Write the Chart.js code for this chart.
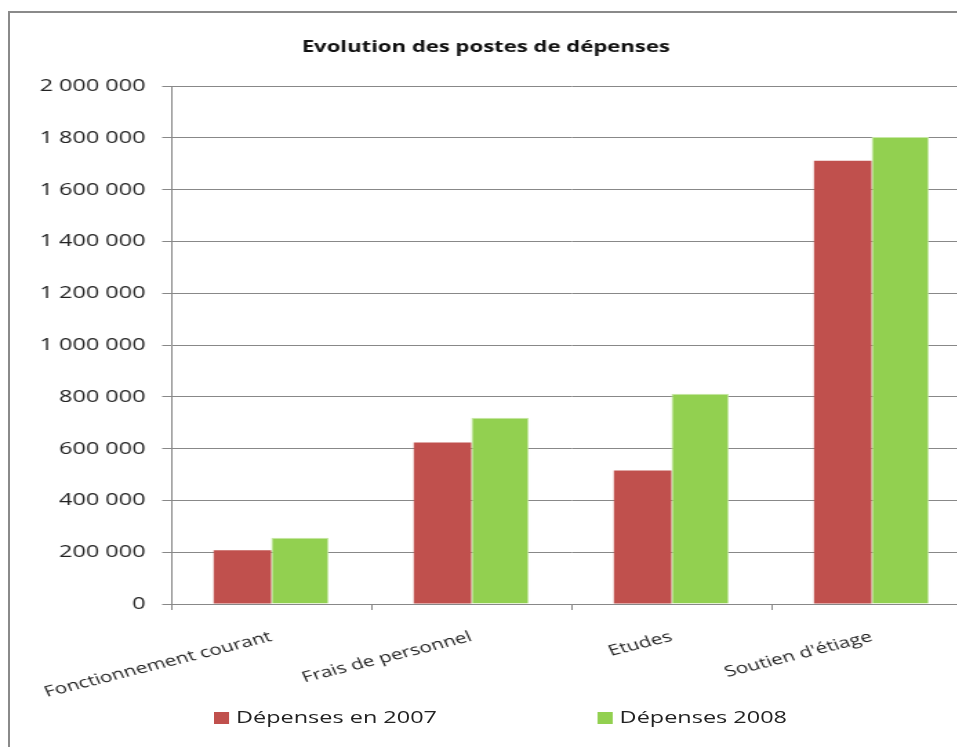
<!DOCTYPE html>
<html lang="fr">
<head>
    <meta charset="UTF-8">
    <title>Evolution des postes de dépenses</title>
    <style>
        * { margin: 0; padding: 0; box-sizing: border-box; }
        body { width: 957px; height: 747px; overflow: hidden; background: #fff; position: relative; font-family: "Open Sans", sans-serif; }
        .frame { position: absolute; left: 8px; top: 11px; width: 1000px; height: 800px; border: 2px solid #8a8a8a; }
        .wrap { position: absolute; left: 0; top: 0; width: 715px; height: 747px; transform: scaleX(1.38); transform-origin: 0 0; }
        .legend { position: absolute; top: 705px; font-size: 17px; color: #222; white-space: nowrap; }
        .legend span.box { display: inline-block; width: 11px; height: 12px; margin-right: 5px; vertical-align: -1px; }
    </style>
    <script src="https://cdn.jsdelivr.net/npm/chart.js"></script>
</head>
<body>
    <div class="frame"></div>
    <div class="wrap">
        <canvas id="chart" width="715" height="747"></canvas>
        <div class="legend" id="leg0" style="left:155px"></div>
        <div class="legend" id="leg1" style="left:433px"></div>
    </div>
    <script>
        const categories = ['Fonctionnement courant', 'Frais de personnel', 'Etudes', "Soutien d'étiage"];
        const depenses2007 = [208000, 624000, 516000, 1712000];
        const depenses2008 = [256000, 719000, 812000, 1804000];
        const seriesLabels = ['Dépenses en 2007', 'Dépenses 2008'];
        const seriesColors = ['#C0504D', '#92D050'];
        const yTicks = [0, 200000, 400000, 600000, 800000, 1000000, 1200000, 1400000, 1600000, 1800000, 2000000];

        function fmt(v) {
            return String(v).replace(/\B(?=(\d{3})+(?!\d))/g, ' ');
        }

        const chart = new Chart(document.getElementById('chart'), {
            type: 'bar',
            data: {
                labels: categories,
                datasets: [
                    { label: seriesLabels[0], data: depenses2007, backgroundColor: seriesColors[0], borderColor: '#C0504D', borderWidth: 0 },
                    { label: seriesLabels[1], data: depenses2008, backgroundColor: seriesColors[1], borderColor: '#C6E8A4', borderWidth: 1 }
                ]
            },
            options: {
                responsive: false,
                animation: false,
                layout: { padding: { left: 0, right: 11, top: 0, bottom: 0 } },
                datasets: { bar: { categoryPercentage: 0.575, barPercentage: 1 } },
                plugins: {
                    legend: { display: false },
                    tooltip: { enabled: false },
                    title: {
                        display: true,
                        text: 'Evolution des postes de dépenses',
                        color: '#111',
                        font: { family: 'Open Sans', size: 16, weight: 'bold' },
                        padding: { top: 38, bottom: 29 }
                    }
                },
                scales: {
                    x: {
                        grid: { offset: true, drawOnChartArea: false, tickLength: 6, color: '#888' },
                        border: { color: '#888' },
                        ticks: {
                            color: '#222', minRotation: 19, maxRotation: 19, autoSkip: false, padding: 18,
                            font: { family: 'Open Sans', size: 15 }
                        },
                        afterFit: s => { s.height = 143; s.paddingLeft = 0; s.paddingRight = 0; }
                    },
                    y: {
                        min: 0, max: 2000000,
                        afterBuildTicks: s => { s.ticks = yTicks.map(v => ({ value: v })); },
                        grid: { color: '#888', tickLength: 6.5 },
                        border: { color: '#888' },
                        ticks: {
                            color: '#222', padding: 12,
                            font: { family: 'Open Sans', size: 17 },
                            callback: v => fmt(v)
                        },
                        afterFit: s => { s.width = 124; }
                    }
                }
            }
        });

        seriesLabels.forEach((t, i) => {
            document.getElementById('leg' + i).innerHTML =
                '<span class="box" style="background:' + seriesColors[i] + '"></span>' + t;
        });
    </script>
</body>
</html>
